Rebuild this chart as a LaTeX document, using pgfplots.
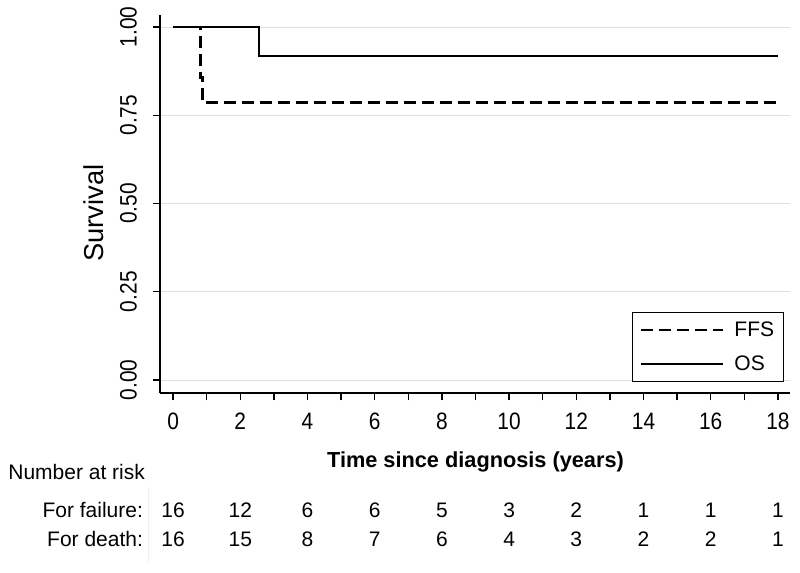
\documentclass[border=0pt]{standalone}
\usepackage{fontspec}
\setmainfont{Liberation Sans}
\newfontfamily\narrowfont[FakeStretch=0.88]{Liberation Sans}
\usepackage{pgfplots}
\usepackage{pgfplotstable}
\pgfplotsset{compat=1.18}
\pgfplotstableread{
x y
0 1
0.81 0.857
0.87 0.786
18 0.786
}\ffs
\pgfplotstableread{
x y
0 1
2.56 0.917
18 0.917
}\os
\pgfplotstableread{
x yf nf yd nd
0 -0.391 16 -0.473 16
2 -0.391 12 -0.473 15
4 -0.391 6 -0.473 8
6 -0.391 6 -0.473 7
8 -0.391 5 -0.473 6
10 -0.391 3 -0.473 4
12 -0.391 2 -0.473 3
14 -0.391 1 -0.473 2
16 -0.391 1 -0.473 2
18 -0.391 1 -0.473 1
}\risk
\newcommand{\tfont}{\fontsize{15.75}{18}\selectfont}
\begin{document}
\begin{tikzpicture}
\useasboundingbox (0pt,0pt) rectangle (600pt,429.75pt);
\begin{axis}[
  at={(120pt,135pt)}, anchor=south west,
  scale only axis, width=472.5pt, height=283.5pt,
  xmin=-0.39, xmax=18.36, ymin=-0.037, ymax=1.034,
  axis x line=bottom, axis y line=left,
  axis line style={line width=1pt, -},
  clip=false,
  xtick={0,2,...,18}, minor xtick={1,3,...,17},
  ytick={0,0.25,0.5,0.75,1},
  tick align=outside,
  major tick length=5.5pt, minor tick length=5.5pt,
  tick style={line width=1pt, black},
  /pgf/number format/assume math mode=true,
  yticklabel style={/pgf/number format/fixed, /pgf/number format/fixed zerofill, /pgf/number format/precision=2, rotate=90, anchor=base},
  yticklabel shift=12pt,
  xticklabel shift=6pt,
  tick label style={font=\narrowfont\fontsize{17.8}{19}\selectfont},
  ymajorgrids, grid style={line width=0.6pt, gray!25},
  xlabel={Time since diagnosis (years)},
  xlabel style={at={(axis cs:9,-0.249)}, anchor=base, font=\bfseries\fontsize{16.3}{18}\selectfont},
  ylabel={Survival},
  ylabel style={at={(axis cs:-2.35,0.473)}, anchor=center, font=\fontsize{20.5}{22}\selectfont},
  legend style={at={(axis cs:18.18,0.193)}, anchor=north east, draw=black, line width=0.8pt,
    font=\tfont, inner xsep=5pt, inner ysep=5pt, row sep=9pt, cells={anchor=west},
    /tikz/every odd column/.append style={column sep=6pt}},
  legend image code/.code={\draw[#1] (0pt,0pt) -- (61.5pt,0pt);},
]
\addplot[const plot, black, line width=1.8pt, dash pattern=on 9pt off 4.5pt] table[x=x,y=y] {\ffs};
\addlegendentry{FFS}
\addplot[const plot, black, line width=1.8pt] table[x=x,y=y] {\os};
\addlegendentry{OS}
\addplot[draw=none, forget plot, nodes near coords, point meta=explicit symbolic,
  nodes near coords style={anchor=base, font=\tfont, inner sep=0pt}] table[x=x,y=yf,meta=nf] {\risk};
\addplot[draw=none, forget plot, nodes near coords, point meta=explicit symbolic,
  nodes near coords style={anchor=base, font=\tfont, inner sep=0pt}] table[x=x,y=yd,meta=nd] {\risk};
\node[anchor=base west, font=\tfont, inner sep=0pt] at (axis cs:-4.91,-0.2834) {Number at risk};
\node[anchor=base east, font=\tfont, inner sep=0pt] at (axis cs:-0.89,-0.391) {For failure:};
\node[anchor=base east, font=\tfont, inner sep=0pt] at (axis cs:-0.89,-0.473) {For death:};
\draw[gray!12, line width=0.75pt] (axis cs:-0.744,-0.303) -- (axis cs:-0.744,-0.516);
\end{axis}
\end{tikzpicture}
\end{document}
